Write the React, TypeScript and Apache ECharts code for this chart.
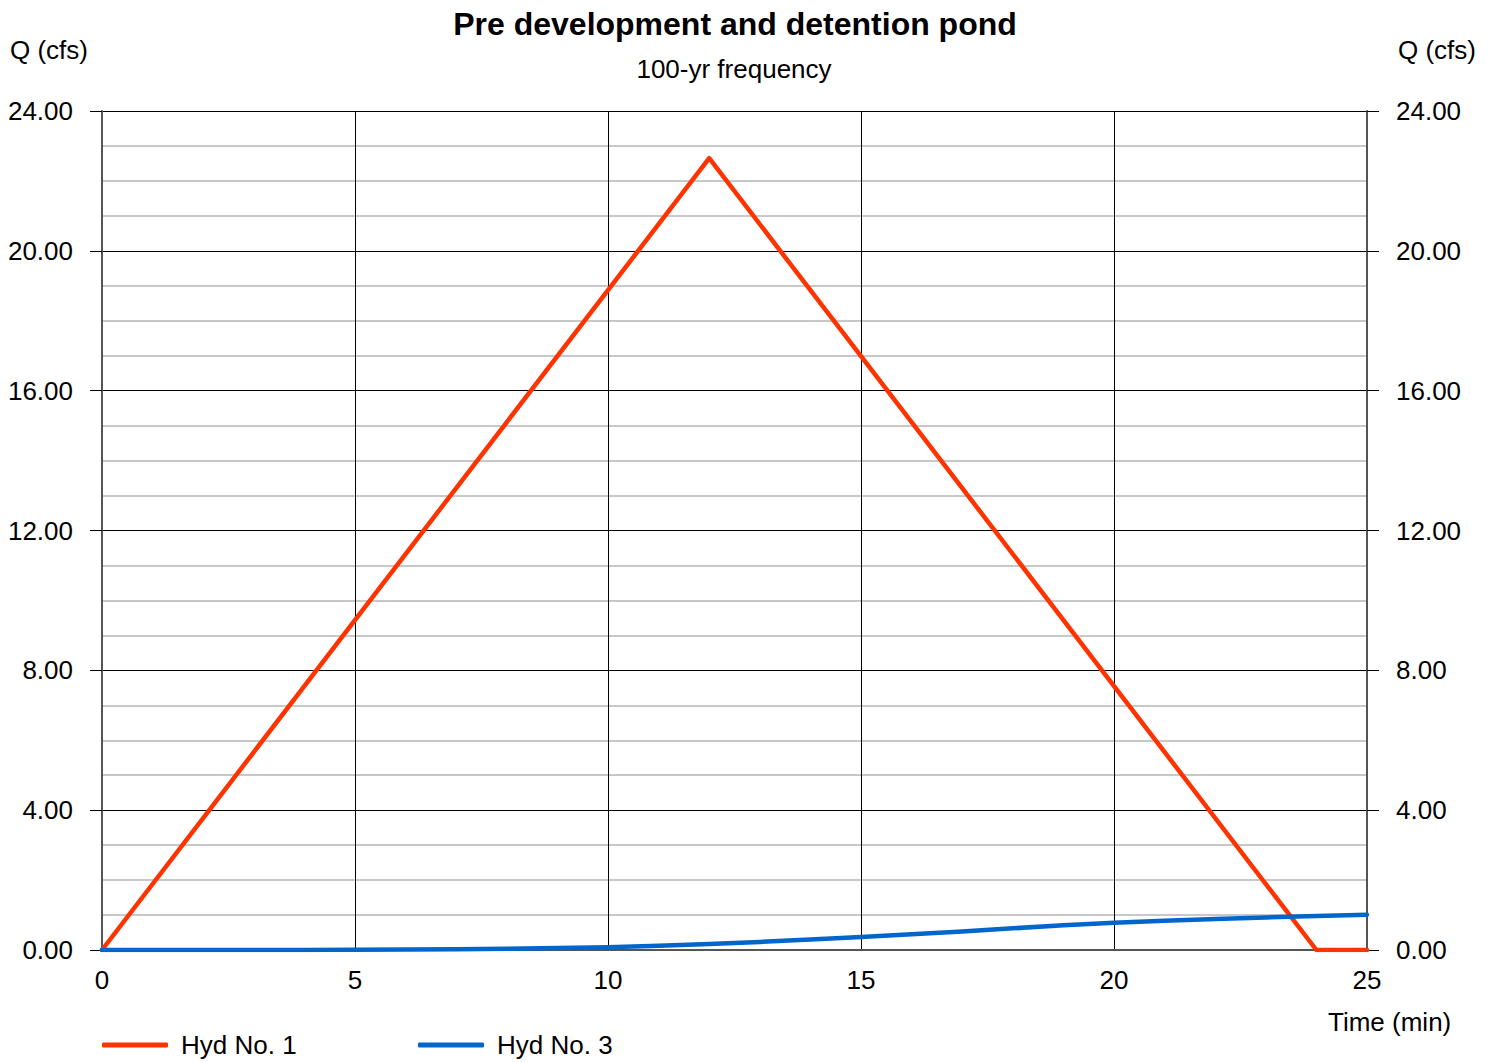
import React, { useEffect, useRef } from "react";
import * as echarts from "echarts";

const TITLE = "Pre development and detention pond";
const SUBTITLE = "100-yr frequency";
const Y_NAME = "Q (cfs)";
const X_NAME = "Time (min)";

// Hyd No. 1 (time in min, Q in cfs)
const hyd1Time = [0, 12, 24, 25];
const hyd1Q = [0, 22.65, 0, 0];

// Hyd No. 3
const hyd3Time = [0, 1, 2, 3, 4, 5, 6, 7, 8, 9, 10, 11, 12, 13, 14, 15, 16, 17, 18, 19, 20, 21, 22, 23, 24, 25];
const hyd3Q = [0, 0, 0, 0, 0.003, 0.008, 0.015, 0.025, 0.037, 0.055, 0.08, 0.12, 0.17, 0.23, 0.3, 0.37, 0.45, 0.53, 0.62, 0.71, 0.78, 0.84, 0.89, 0.93, 0.97, 1.01];

const FONT = "'Liberation Sans', Arial, sans-serif";

export default function App() {
  const ref = useRef<HTMLDivElement>(null);
  useEffect(() => {
    if (!ref.current) return;
    const chart = echarts.init(ref.current, undefined, { renderer: "svg" });
    const yAxisBase = (pos: "left" | "right") => ({
      type: "value",
      position: pos,
      min: 0,
      max: 24,
      interval: 4,
      axisLine: { show: true, onZero: false, lineStyle: { color: "#555555", width: 2 } },
      axisTick: { show: true, length: 12, lineStyle: { color: "#000000", width: 1 } },
      axisLabel: {
        margin: 29,
        color: "#000000",
        fontSize: 26,
        fontFamily: FONT,
        formatter: (v: number) => v.toFixed(2),
      },
      splitLine: { show: pos === "left", lineStyle: { color: "#000000", width: 1 } },
      minorTick: { show: false, splitNumber: 4 },
      minorSplitLine: { show: pos === "left", lineStyle: { color: "#c8c8c8", width: 2 } },
    });
    const legendBase = (left: number, name: string) => ({
      left,
      top: 1032,
      data: [name],
      icon: "roundRect",
      itemWidth: 66,
      itemHeight: 5,
      padding: 0,
      textStyle: { fontSize: 26, color: "#000000", fontFamily: FONT, padding: [0, 0, 0, 8] },
    });
    chart.setOption({
      animation: false,
      backgroundColor: "#ffffff",
      textStyle: { fontFamily: FONT },
      title: [
        {
          text: TITLE,
          left: 730,
          top: 3,
          textAlign: "center",
          textStyle: { fontSize: 32, fontWeight: "bold", color: "#000000", fontFamily: FONT },
        },
        {
          text: SUBTITLE,
          left: 729,
          top: 51,
          textAlign: "center",
          textStyle: { fontSize: 26, fontWeight: "normal", color: "#000000", fontFamily: FONT },
        },
      ],
      grid: { left: 102, right: 129, top: 111, bottom: 112, containLabel: false },
      xAxis: {
        type: "value",
        min: 0,
        max: 25,
        interval: 5,
        axisLine: { show: true, onZero: false, lineStyle: { color: "#555555", width: 2 } },
        axisTick: { show: false },
        axisLabel: { margin: 17, color: "#000000", fontSize: 26, fontFamily: FONT },
        splitLine: { show: true, lineStyle: { color: "#000000", width: 1 } },
      },
      yAxis: [yAxisBase("left"), yAxisBase("right")],
      legend: [legendBase(102, "Hyd No. 1"), legendBase(418, "Hyd No. 3")],
      graphic: [
        {
          type: "text",
          left: 10,
          top: 37,
          style: { text: Y_NAME, fill: "#000000", font: `26px ${FONT}` },
        },
        {
          type: "text",
          left: 1398,
          top: 37,
          style: { text: Y_NAME, fill: "#000000", font: `26px ${FONT}` },
        },
        {
          type: "text",
          left: 1328,
          top: 1009,
          style: { text: X_NAME, fill: "#000000", font: `26px ${FONT}` },
        },
      ],
      series: [
        {
          name: "Hyd No. 1",
          type: "line",
          data: hyd1Time.map((t, i) => [t, hyd1Q[i]]),
          showSymbol: false,
          symbol: "none",
          lineStyle: { color: "#ff3300", width: 4.5, cap: "round", join: "round" },
          itemStyle: { color: "#ff3300" },
          z: 3,
        },
        {
          name: "Hyd No. 3",
          type: "line",
          data: hyd3Time.map((t, i) => [t, hyd3Q[i]]),
          showSymbol: false,
          symbol: "none",
          smooth: false,
          lineStyle: { color: "#0066cc", width: 4.5, cap: "round", join: "round" },
          itemStyle: { color: "#0066cc" },
          z: 4,
        },
      ],
    });
    return () => chart.dispose();
  }, []);
  return (
    <div
      ref={ref}
      style={{ position: "fixed", left: 0, top: 0, width: 1496, height: 1062 }}
    />
  );
}
